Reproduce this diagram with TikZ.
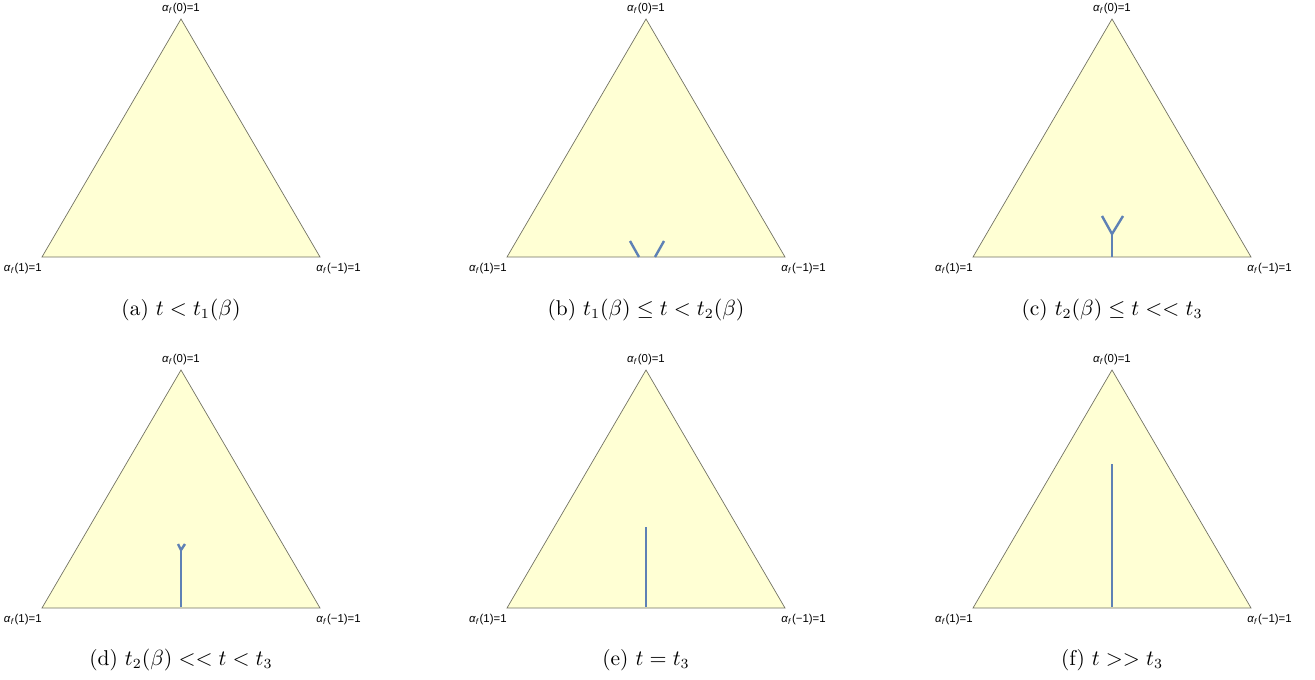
\documentclass[tikz,border=0pt]{standalone}
\usepackage{fontspec}
\usepackage{tikz}
\usetikzlibrary{positioning}
\newfontfamily\labelfont{Liberation Sans}
\newcommand\alphaf{\textit{α}\textsubscript{\textit{f}}}
\definecolor{simplexfill}{RGB}{255,255,212}
\definecolor{simplexedge}{RGB}{115,115,100}
\definecolor{curveblue}{RGB}{94,129,181}

\begin{document}
\begin{tikzpicture}[
  x=0.5pt, y=-0.5pt,
  simplex/.style={fill=simplexfill, draw=simplexedge, line width=0.35pt},
  vlabel/.style={font=\labelfont\fontsize{5.7}{6}\selectfont, inner sep=0pt},
  subcap/.style={font=\fontsize{10.7}{13}\selectfont, inner sep=0pt},
  curve/.style={draw=curveblue, line width=1.2pt}
]
  \useasboundingbox (0,0) rectangle (1315,679);

  % six simplices with corner labels and captions
  \foreach \p/\cx/\ty/\capy/\txt in {
      a/181/19/310/{$t<t_1(\beta)$},
      b/646/19/310/{$t_1(\beta)\le t<t_2(\beta)$},
      c/1112/19/310/{$t_2(\beta)\le t<<t_3$},
      d/181/370/660/{$t_2(\beta)<<t<t_3$},
      e/646/370/660/{$t=t_3$},
      f/1112/370/660/{$t>>t_3$}} {
    \coordinate (top-\p) at (\cx,\ty);
    \coordinate (left-\p) at (\cx-139,\ty+238);
    \coordinate (right-\p) at (\cx+139,\ty+238);
    \draw[simplex] (top-\p) -- (left-\p) -- (right-\p) -- cycle;
    \node[vlabel, above=2.5pt of top-\p] (lt-\p) {\alphaf(0)=1};
    \node[vlabel, anchor=north east] (ll-\p) at ([yshift=-3pt]left-\p) {\alphaf(1)=1};
    \node[vlabel, anchor=north west] (lr-\p) at ([xshift=-2pt,yshift=-3pt]right-\p) {\alphaf(−1)=1};
    \node[subcap] (cap-\p) at (\cx,\capy) {(\p) \txt};
  }

  % (b) two branches
  \coordinate (b-l0) at (639,257);
  \coordinate (b-l1) at (630,241);
  \coordinate (b-r0) at (655,257);
  \coordinate (b-r1) at (664,241);
  \draw[curve] (b-l0) -- (b-l1);
  \draw[curve] (b-r0) -- (b-r1);

  % (c) joined branches
  \coordinate (c-j) at (1112,234);
  \draw[curve] (1112,257) -- (c-j);
  \draw[curve] (1102,216) -- (c-j) -- (1123,216);

  % (d) small fork on a stem
  \coordinate (d-j) at (181,550);
  \draw[curve] (181,607) -- (d-j);
  \draw[curve] (178,544) -- (d-j) -- (185,544);

  % (e) and (f) single stems
  \coordinate (e-0) at (646,607);
  \coordinate (e-1) at (646,527);
  \draw[curve] (e-0) -- (e-1);
  \coordinate (f-0) at (1112,607);
  \coordinate (f-1) at (1112,464);
  \draw[curve] (f-0) -- (f-1);
\end{tikzpicture}
\end{document}
